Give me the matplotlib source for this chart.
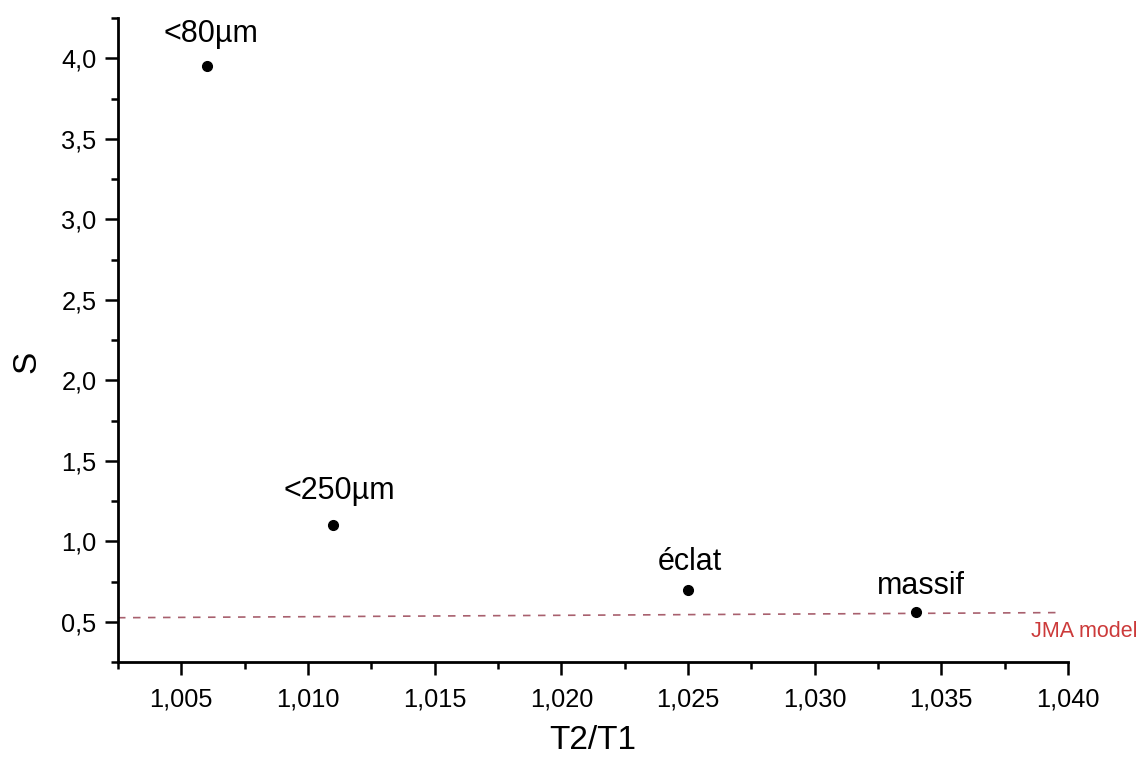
import matplotlib
matplotlib.use("Agg")
import matplotlib.pyplot as plt
from matplotlib.ticker import MultipleLocator, FuncFormatter

plt.rcParams['font.family'] = ['Liberation Sans', 'DejaVu Sans']

# Measured samples
samples = ["<80µm", "<250µm", "éclat", "massif"]
ratio_t2_t1 = [1.006, 1.011, 1.025, 1.034]
s_values = [3.95, 1.10, 0.70, 0.56]

# JMA model reference line
jma_x = [1.0025, 1.0398]
jma_s = [0.525, 0.557]

# label offsets (points) relative to each marker
label_offsets = [(3, 23), (4, 24.5), (1, 20), (3.5, 19)]

fig = plt.figure(figsize=(11.45, 7.58), dpi=100)
ax = fig.add_axes([118 / 1145, 1 - 662 / 758, 950 / 1145, 644 / 758])

ax.plot(jma_x, jma_s, linestyle=(0, (4.5, 4.5)), color='#a8606e', linewidth=1.2, zorder=2)
ax.plot(ratio_t2_t1, s_values, linestyle='none', marker='o', markersize=7,
        color='black', zorder=3)

for name, x, y, off in zip(samples, ratio_t2_t1, s_values, label_offsets):
    ax.annotate(name, (x, y), xytext=off, textcoords='offset points',
                ha='center', va='center', fontsize=22, color='black')

ax.annotate("JMA model", (jma_x[-1], jma_s[-1]), xytext=(15, -13.5),
            textcoords='offset points', ha='center', va='center',
            fontsize=15.5, color='#cc3a3a', annotation_clip=False)

ax.set_xlim(1.0025, 1.040)
ax.set_ylim(0.25, 4.25)

ax.xaxis.set_major_locator(MultipleLocator(0.005))
ax.xaxis.set_minor_locator(MultipleLocator(0.0025))
ax.yaxis.set_major_locator(MultipleLocator(0.5))
ax.yaxis.set_minor_locator(MultipleLocator(0.25))

ax.xaxis.set_major_formatter(FuncFormatter(lambda v, p: f"{v:.3f}".replace('.', ',')))
ax.yaxis.set_major_formatter(FuncFormatter(lambda v, p: f"{v:.1f}".replace('.', ',')))

for side in ('top', 'right'):
    ax.spines[side].set_visible(False)
for side in ('left', 'bottom'):
    ax.spines[side].set_linewidth(2.0)

ax.tick_params(which='major', direction='out', length=9.5, width=1.8,
               labelsize=18.3, colors='black')
ax.tick_params(which='minor', direction='out', length=5, width=1.8)
ax.tick_params(axis='x', which='major', pad=9)
ax.tick_params(axis='y', which='major', pad=6)

ax.set_xlabel("T2/T1", fontsize=24)
ax.set_ylabel("S", fontsize=24)
ax.xaxis.set_label_coords(0.5, -0.098)
ax.yaxis.set_label_coords(-0.080, 0.466)

fig.savefig("out.png", dpi=100)
